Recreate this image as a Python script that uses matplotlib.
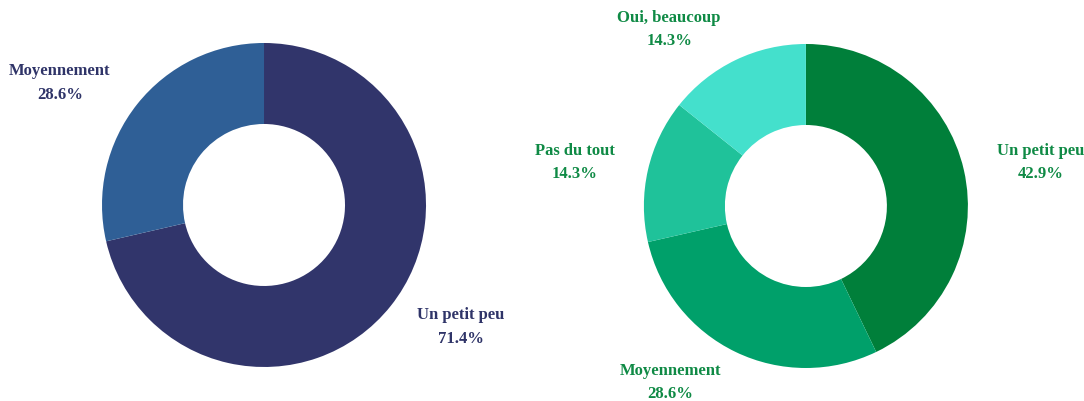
import matplotlib.pyplot as plt

left_labels = ["Un petit peu", "Moyennement"]
left_values = [71.4, 28.6]
left_colors = ["#31356b", "#2f5f96"]

right_labels = ["Un petit peu", "Moyennement", "Pas du tout", "Oui, beaucoup"]
right_values = [42.9, 28.6, 14.3, 14.3]
right_colors = ["#007f3a", "#00a06a", "#1fc29a", "#44e0cc"]

plt.rcParams['font.family'] = ['Liberation Serif', 'DejaVu Serif']

fig = plt.figure(figsize=(10.84, 4.01), dpi=100)


def donut(rect, labels, values, colors, text_color):
    ax = fig.add_axes(rect)
    names = [f"{l}\n{v:.1f}%" for l, v in zip(labels, values)]
    # pie picks left/right alignment from the side of the label
    ax.pie(values, labels=names, colors=colors, startangle=90,
           counterclock=False, labeldistance=1.21,
           wedgeprops=dict(width=0.5, linewidth=0),
           textprops=dict(color=text_color, fontsize=12, fontweight='bold',
                          multialignment='center', linespacing=1.6))
    ax.set_xlim(-1, 1)
    ax.set_ylim(-1, 1)
    ax.set_aspect('equal')
    return ax


donut([0.0941, 0.0848, 0.2989, 0.808], left_labels, left_values, left_colors, "#2f3468")
donut([0.594, 0.0823, 0.2989, 0.808], right_labels, right_values, right_colors, "#0f8a45")

fig.savefig("out.png", dpi=100)
